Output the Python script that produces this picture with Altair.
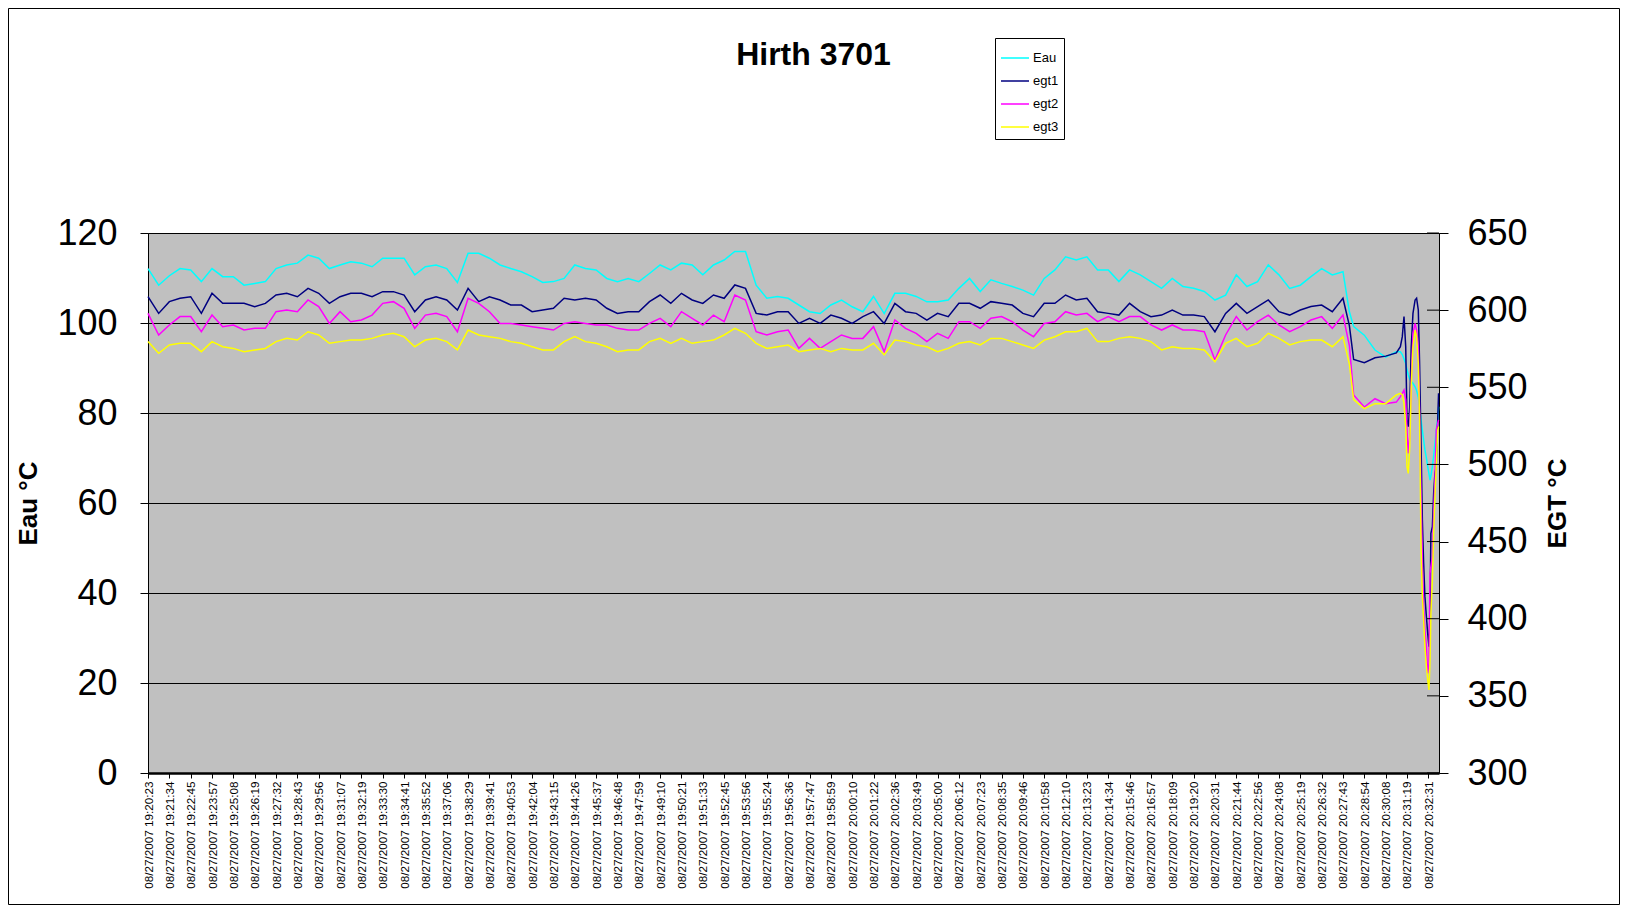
import altair as alt
import pandas as pd

TITLE = "Hirth 3701"
DATE = "08/27/2007"
TIMES = ["19:20:23", "19:21:34", "19:22:45", "19:23:57", "19:25:08", "19:26:19", "19:27:32",
         "19:28:43", "19:29:56", "19:31:07", "19:32:19", "19:33:30", "19:34:41", "19:35:52",
         "19:37:06", "19:38:29", "19:39:41", "19:40:53", "19:42:04", "19:43:15", "19:44:26",
         "19:45:37", "19:46:48", "19:47:59", "19:49:10", "19:50:21", "19:51:33", "19:52:45",
         "19:53:56", "19:55:24", "19:56:36", "19:57:47", "19:58:59", "20:00:10", "20:01:22",
         "20:02:36", "20:03:49", "20:05:00", "20:06:12", "20:07:23", "20:08:35", "20:09:46",
         "20:10:58", "20:12:10", "20:13:23", "20:14:34", "20:15:46", "20:16:57", "20:18:09",
         "20:19:20", "20:20:31", "20:21:44", "20:22:56", "20:24:08", "20:25:19", "20:26:32",
         "20:27:43", "20:28:54", "20:30:08", "20:31:19", "20:32:31"]

SERIES = ["Eau", "egt1", "egt2", "egt3"]
COLORS = ["#00FFFF", "#000080", "#FF00FF", "#FFFF00"]
EAU_TICKS = [0, 20, 40, 60, 80, 100, 120]
EGT_TICKS = [300, 350, 400, 450, 500, 550, 600, 650]

# sample positions (in units of x-axis label intervals)
POS_TAIL = [56.3, 56.5, 57, 57.5, 58, 58.5,
            58.69, 58.78, 58.86, 58.94, 59.00, 59.06, 59.13, 59.20, 59.28, 59.38,
            59.45, 59.53, 59.59, 59.66, 59.72, 59.78, 59.84, 59.91, 59.97, 60.03,
            60.08, 60.12, 60.19, 60.25, 60.31, 60.37, 60.44, 60.48]

EAU = [112.1, 108.4, 110.5, 112.1, 111.8, 109.2, 112.1, 110.3, 110.3, 108.4,
       108.8, 109.2, 112.1, 112.9, 113.3, 115.1, 114.4, 112.1, 112.9, 113.6,
       113.3, 112.5, 114.4, 114.4, 114.4, 110.7, 112.5, 112.9, 112.1, 109.0,
       115.5, 115.5, 114.4, 112.9, 112.1, 111.4, 110.3, 109.0, 109.2, 109.9,
       112.9, 112.1, 111.8, 109.9, 109.2, 109.9, 109.2, 111.0, 112.9, 111.8,
       113.3, 112.9, 110.7, 112.9, 114.0, 115.9, 115.9, 108.4, 105.5, 105.9,
       105.5, 104.0, 102.5, 102.1, 104.0, 105.1, 103.6, 102.5, 105.9, 102.1,
       106.6, 106.6, 105.9, 104.7, 104.7, 105.1, 107.7, 109.9, 107.0, 109.6,
       108.8, 108.1, 107.3, 106.2, 109.9, 111.8, 114.7, 114.0, 114.7, 111.8,
       111.8, 109.2, 111.8, 110.7, 109.2, 107.7, 109.9, 108.1, 107.7, 107.0,
       105.1, 106.2, 110.7, 108.1, 109.2, 112.9, 110.7, 107.7, 108.4, 110.3,
       112.1, 110.7, 111.4,
       102.5, 99.2, 97.3, 94.0, 92.4, 93.6,
       93.6, 93.0, 92.0, 91.0, 89.6, 88.5, 87.5, 87.0, 86.6, 85.8, 85.0, 83.5, 81.4, 78.5,
       76.2, 74.0, 71.8, 70.0, 68.1, 66.5, 65.1, 66.0, 68.1, 70.5, 73.3, 76.2, 78.4, 81.4]

EGT1 = [608.7, 597.9, 605.5, 607.7, 608.7, 597.9, 610.9, 604.4, 604.4, 604.4,
        602.3, 604.4, 609.8, 610.9, 608.7, 614.1, 610.9, 604.4, 608.7, 610.9,
        610.9, 608.7, 612.0, 612.0, 609.8, 599.0, 606.6, 608.7, 606.6, 600.1,
        614.1, 605.5, 608.7, 606.6, 603.3, 603.3, 599.0, 600.1, 601.2, 607.7,
        606.6, 607.7, 606.6, 601.2, 597.9, 599.0, 599.0, 605.5, 609.8, 604.4,
        610.9, 606.6, 604.4, 609.8, 607.7, 616.3, 614.1, 597.9, 596.8, 599.0,
        599.0, 591.4, 594.7, 591.4, 596.8, 594.7, 591.4, 595.8, 599.0, 591.4,
        604.4, 599.0, 597.9, 593.6, 597.9, 595.8, 604.4, 604.4, 601.2, 605.5,
        604.4, 603.3, 597.9, 595.8, 604.4, 604.4, 609.8, 606.6, 607.7, 599.0,
        597.9, 596.8, 604.4, 599.0, 595.8, 596.8, 600.1, 596.8, 596.8, 595.8,
        586.0, 597.9, 604.4, 597.9, 602.3, 606.6, 599.0, 596.8, 600.1, 602.3,
        603.3, 599.0, 607.7,
        590.0, 568.0, 565.9, 569.1, 570.2, 572.3,
        576.3, 582.8, 595.8, 576.3, 528.8, 524.5, 537.4, 576.3, 597.9, 606.6,
        607.7, 600.1, 565.5, 511.5, 464.0, 435.9, 414.3, 401.3, 390.5, 381.9,
        403.5, 455.3, 459.7, 481.3, 494.2, 498.5, 528.8, 546.1]

EGT2 = [597.9, 583.9, 590.4, 595.8, 595.8, 586.0, 596.8, 589.3, 590.4, 587.1,
        588.2, 588.2, 599.0, 600.1, 599.0, 606.6, 602.3, 591.4, 599.0, 592.5,
        593.6, 596.8, 604.4, 605.5, 601.2, 588.2, 596.8, 597.9, 595.8, 586.0,
        607.7, 604.4, 599.0, 591.4, 591.4, 590.4, 589.3, 588.2, 587.1, 591.4,
        592.5, 591.4, 590.4, 590.4, 588.2, 587.1, 587.1, 591.4, 594.7, 589.3,
        599.0, 594.7, 590.4, 596.8, 592.5, 609.8, 606.6, 586.0, 583.9, 586.0,
        587.1, 575.2, 581.7, 575.2, 579.6, 583.9, 581.7, 581.7, 589.3, 573.1,
        593.6, 588.2, 585.0, 579.6, 585.0, 581.7, 592.5, 592.5, 588.2, 594.7,
        595.8, 592.5, 587.1, 582.8, 591.4, 592.5, 599.0, 596.8, 597.9, 592.5,
        595.8, 592.5, 595.8, 595.8, 590.4, 587.1, 590.4, 587.1, 587.1, 586.0,
        567.7, 583.9, 595.8, 587.1, 592.5, 596.8, 590.4, 586.0, 589.3, 593.6,
        595.8, 588.2, 596.8,
        577.0, 545.0, 537.2, 542.6, 539.4, 540.4,
        543.9, 546.1, 548.2, 541.8, 522.3, 507.2, 518.0, 554.7, 585.0, 591.4,
        587.1, 576.3, 533.1, 479.1, 435.9, 407.8, 392.7, 381.9, 364.6, 371.1,
        429.4, 433.7, 440.2, 468.3, 489.9, 522.3, 526.6, 528.8]

EGT3 = [579.6, 572.0, 577.4, 578.5, 578.5, 573.1, 579.6, 576.3, 575.2, 573.1,
        574.2, 575.2, 579.6, 581.7, 580.6, 586.0, 583.9, 578.5, 579.6, 580.6,
        580.6, 581.7, 583.9, 585.0, 582.8, 576.3, 580.6, 581.7, 579.6, 574.2,
        587.1, 583.9, 582.8, 581.7, 579.6, 578.5, 576.3, 574.2, 574.2, 579.6,
        582.8, 579.6, 578.5, 576.3, 573.1, 574.2, 574.2, 579.6, 581.7, 578.5,
        581.7, 578.5, 579.6, 580.6, 583.9, 588.2, 585.0, 578.5, 575.2, 576.3,
        577.4, 573.1, 574.2, 575.2, 573.1, 575.2, 574.2, 574.2, 578.5, 571.0,
        580.6, 579.6, 577.4, 576.3, 573.1, 575.2, 578.5, 579.6, 577.4, 581.7,
        581.7, 579.6, 577.4, 575.2, 580.6, 582.8, 586.0, 586.0, 588.2, 579.6,
        579.6, 581.7, 582.8, 581.7, 579.6, 574.2, 576.3, 575.2, 575.2, 574.2,
        566.6, 578.5, 581.7, 576.3, 578.5, 585.0, 581.7, 577.4, 579.6, 580.6,
        580.6, 576.3, 582.8,
        565.0, 542.0, 536.2, 539.4, 539.4, 545.0,
        546.1, 545.0, 539.6, 524.5, 498.5, 494.2, 511.5, 550.4, 576.3, 587.1,
        582.8, 565.5, 528.8, 446.7, 414.3, 399.2, 381.9, 368.9, 360.3, 353.8,
        373.2, 403.5, 425.1, 455.3, 479.1, 498.5, 522.3, 524.5]

pos = [i / 2 for i in range(113)] + POS_TAIL


def frame(name, vals):
    return pd.DataFrame({"pos": pos, "value": vals, "series": name})


W, H = 1291, 540
FONT = "Liberation Sans"
label_arr = "[" + ",".join("'%s %s'" % (DATE, t) for t in TIMES) + "]"

x_enc = alt.X(
    "pos:Q",
    scale=alt.Scale(domain=[0, 60.5], nice=False, zero=False),
    axis=alt.Axis(values=list(range(len(TIMES))), labelExpr=label_arr + "[datum.value]",
                  labelAngle=270, labelFont=FONT, labelFontSize=11.7, labelColor="black",
                  labelPadding=3, labelOverlap=False, labelFlush=False, tickSize=5,
                  tickColor="black", tickWidth=1, domainColor="black", domainWidth=2.5,
                  grid=False, title=None),
)

color_enc = alt.Color(
    "series:N",
    scale=alt.Scale(domain=SERIES, range=COLORS),
    legend=alt.Legend(title=None, orient="none", legendX=847, legendY=-195,
                      direction="vertical", strokeColor="black", fillColor="white",
                      padding=5, symbolType="stroke", symbolSize=784,
                      symbolStrokeWidth=1.5, labelFont=FONT, labelFontSize=13,
                      labelColor="black", labelOffset=3, rowPadding=1, cornerRadius=0),
)

eau_axis = alt.Axis(orient="left", values=EAU_TICKS, grid=True, gridColor="black",
                    gridWidth=1, gridOpacity=1, domainColor="black", tickColor="black",
                    tickSize=8, labelFont=FONT, labelFontSize=36, labelColor="black",
                    labelPadding=23, title="Eau °C", titleFont=FONT, titleFontSize=26,
                    titleFontWeight="bold", titleColor="black", titleAngle=270,
                    titleX=-120, titleY=270, titleAlign="center", titleBaseline="middle")

egt_axis = alt.Axis(orient="right", values=EGT_TICKS, grid=False, domainColor="black",
                    tickColor="black", tickSize=9, labelFont=FONT, labelFontSize=36,
                    labelColor="black", labelPadding=19, title="EGT °C", titleFont=FONT,
                    titleFontSize=26, titleFontWeight="bold", titleColor="black",
                    titleAngle=270, titleX=118.5, titleY=270, titleAlign="center",
                    titleBaseline="middle")
egt_scale = alt.Scale(domain=[300, 650], nice=False, zero=False)

eau = alt.Chart(frame("Eau", EAU)).mark_line(strokeWidth=1.5).encode(
    x=x_enc,
    y=alt.Y("value:Q", scale=alt.Scale(domain=[0, 120], nice=False, zero=False), axis=eau_axis),
    color=color_enc,
)


def egt_line(name, vals):
    return alt.Chart(frame(name, vals)).mark_line(strokeWidth=1.5).encode(
        x=x_enc, y=alt.Y("value:Q", scale=egt_scale, axis=egt_axis), color=color_enc)


egt_inner_ticks = alt.Chart(pd.DataFrame({"value": EGT_TICKS})).mark_rule(
    color="black", strokeWidth=1).encode(
    y=alt.Y("value:Q", scale=egt_scale, axis=egt_axis),
    x=alt.value(W - 12), x2=alt.value(W))

egt = alt.layer(egt_line("egt1", EGT1), egt_line("egt2", EGT2), egt_line("egt3", EGT3),
                egt_inner_ticks)

border = alt.Chart(pd.DataFrame({"k": [0]})).mark_rect(
    filled=False, stroke="black", strokeWidth=1).encode(
    x=alt.value(-139.5), x2=alt.value(W + 180.5), y=alt.value(-224.5), y2=alt.value(H + 131.5))

chart = alt.layer(border, eau, egt).resolve_scale(y="independent").properties(
    width=W, height=H,
    title=alt.Title(TITLE, font=FONT, fontSize=32, fontWeight="bold", color="black",
                    anchor="middle", dx=20, offset=0, dy=89, baseline="alphabetic"),
    padding={"left": 140, "top": 225, "right": 181, "bottom": 132},
    autosize=alt.AutoSizeParams(type="none"),
).configure(background="white").configure_view(fill="#C0C0C0", stroke="#808080", strokeWidth=1)

chart.save("out.html", embed_options={"renderer": "svg", "actions": False})
